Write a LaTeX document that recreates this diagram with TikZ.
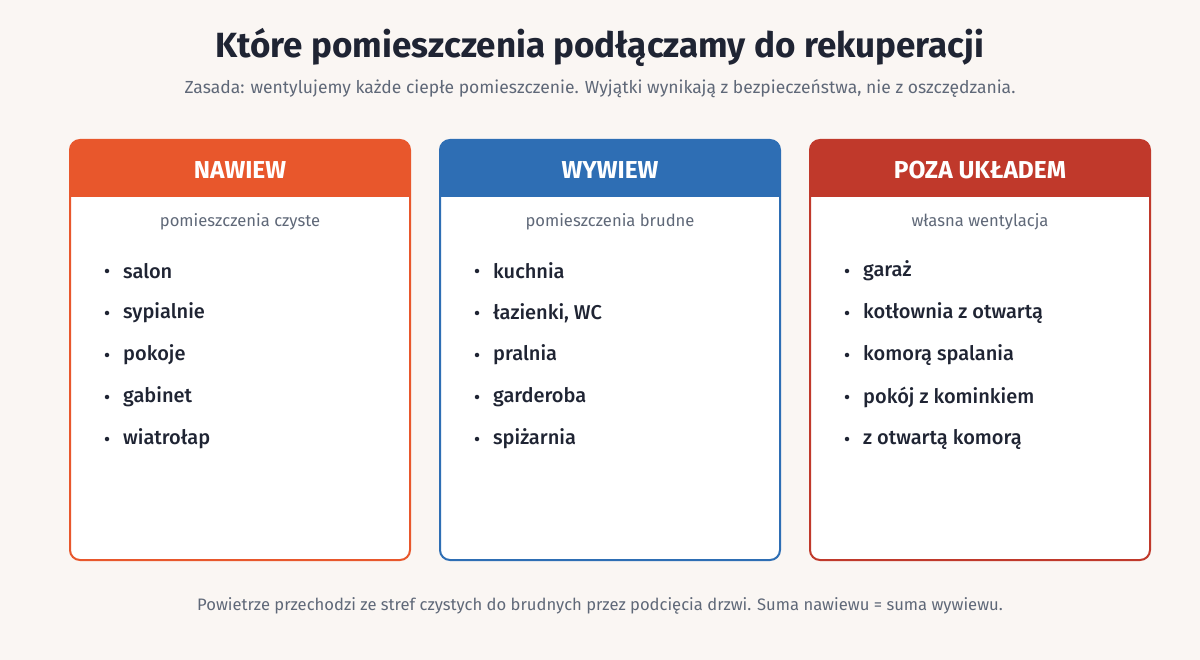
\documentclass[tikz,border=0pt]{standalone}
\usepackage{fontspec}
\setmainfont{Fira Sans}
\newfontfamily\mediumfont{Fira Sans Medium}
\definecolor{bgcol}{RGB}{250,246,243}
\definecolor{inkcol}{RGB}{31,36,51}
\definecolor{greycol}{RGB}{95,104,120}
\definecolor{nawcol}{RGB}{232,87,44}
\definecolor{wywcol}{RGB}{46,110,180}
\definecolor{pozcol}{RGB}{192,57,43}
\tikzset{
  card/.style={draw=#1, line width=2pt, fill=white, rounded corners=10pt,
    minimum width=340pt, minimum height=420pt, inner sep=0pt},
  headtext/.style={text=white, font=\bfseries\fontsize{24.5}{28}\selectfont},
  subtext/.style={text=greycol, font=\fontsize{16.6}{20}\selectfont},
  item/.style={text=inkcol, anchor=west, inner sep=0pt,
    font=\mediumfont\fontsize{20}{24}\selectfont},
  dot/.style={circle, fill=inkcol, inner sep=0pt, minimum size=4.5pt}
}
\newcommand{\cardhead}[3]{%
  \fill[#1] (#2,197) {[rounded corners=9pt] -- (#2,140) -- (#3,140)} -- (#3,197) -- cycle;}
\begin{document}
\begin{tikzpicture}[x=1pt, y=-1pt]
  \fill[bgcol] (0,0) rectangle (1200,660);
  \useasboundingbox (0,0) rectangle (1200,660);

  \node[text=inkcol, font=\bfseries\fontsize{35}{40}\selectfont] (title) at (600,47)
    {Które pomieszczenia podłączamy do rekuperacji};
  \node[subtext, font=\fontsize{17.5}{21}\selectfont] (lead) at (600,89)
    {Zasada: wentylujemy każde ciepłe pomieszczenie. Wyjątki wynikają z bezpieczeństwa, nie z oszczędzania.};

  % cards
  \node[card=nawcol] (nawiew) at (240,350) {};
  \node[card=wywcol] (wywiew) at (610,350) {};
  \node[card=pozcol] (poza) at (980,350) {};
  \cardhead{nawcol}{70}{410}
  \cardhead{wywcol}{440}{780}
  \cardhead{pozcol}{810}{1150}

  \node[headtext] (h1) at (240,170) {NAWIEW};
  \node[headtext] (h2) at (610,170) {WYWIEW};
  \node[headtext] (h3) at (980,170) {POZA UKŁADEM};

  \node[subtext] (s1) at (240,222) {pomieszczenia czyste};
  \node[subtext] (s2) at (610,222) {pomieszczenia brudne};
  \node[subtext] (s3) at (980,222) {własna wentylacja};

  % lists
  \foreach \y/\t in {271/salon, 313/sypialnie, 355/pokoje, 397/gabinet, 439/wiatrołap}{
    \node[dot] at (107,\y) {};
    \node[item] at (123,\y) {\t};
  }
  \foreach \y/\t in {271/kuchnia, 313/{łazienki, WC}, 355/pralnia, 397/garderoba, 439/spiżarnia}{
    \node[dot] at (477,\y) {};
    \node[item] at (493,\y) {\t};
  }
  \foreach \y/\t in {271/garaż, 313/kotłownia z otwartą, 355/komorą spalania, 397/pokój z kominkiem, 439/z otwartą komorą}{
    \node[dot] at (847,\y) {};
    \node[item] at (863,\y) {\t};
  }

  \node[subtext] (foot) at (600,606)
    {Powietrze przechodzi ze stref czystych do brudnych przez podcięcia drzwi. Suma nawiewu = suma wywiewu.};
\end{tikzpicture}
\end{document}
